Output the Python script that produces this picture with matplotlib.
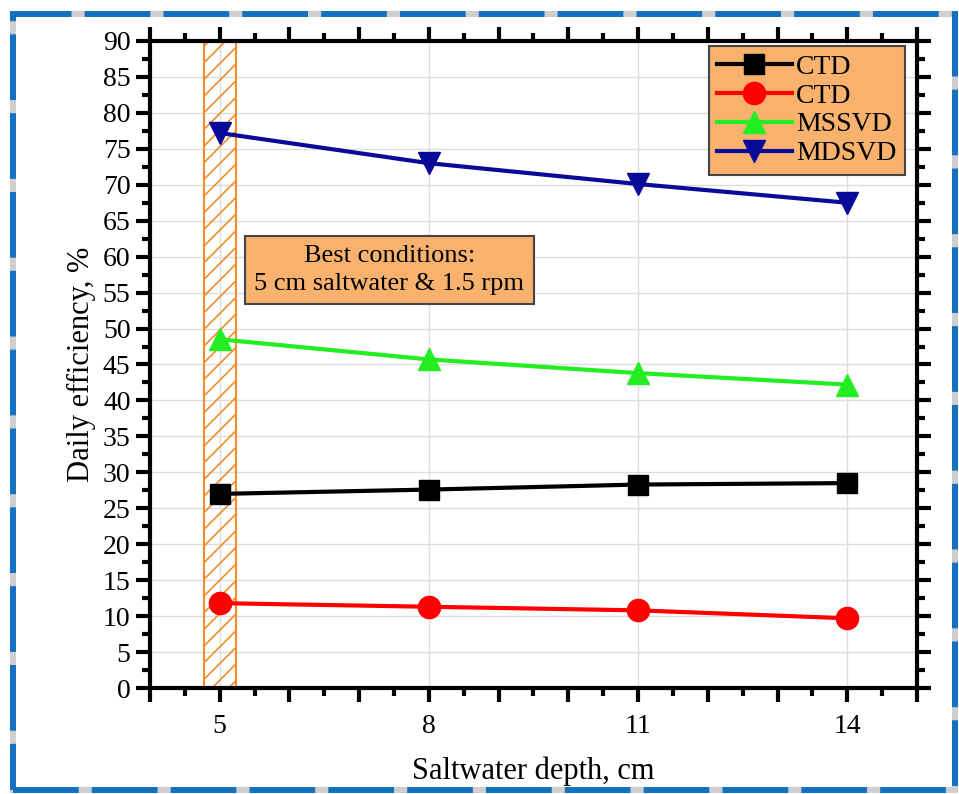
import numpy as np
import matplotlib.pyplot as plt
from matplotlib.patches import Rectangle
from matplotlib.ticker import MultipleLocator, FixedFormatter, FixedLocator

plt.rcParams['font.family'] = ['Liberation Serif', 'DejaVu Serif']
plt.rcParams['hatch.color'] = '#F28C28'
plt.rcParams['hatch.linewidth'] = 1.2

# Data
depth = [5, 8, 11, 14]
ctd_black = [27.0, 27.6, 28.3, 28.5]
ctd_red = [11.8, 11.3, 10.8, 9.7]
mssvd = [48.5, 45.7, 43.8, 42.2]
mdsvd = [77.2, 73.0, 70.1, 67.5]
labels = ['CTD', 'CTD', 'MSSVD', 'MDSVD']
best_lo, best_hi = 4.78, 5.24

orange = '#F8B26E'

fig = plt.figure(figsize=(9.59, 7.94), dpi=100)
ax = fig.add_axes([0.1564, 0.1335, 0.7998, 0.8149])

# grid
for x in depth:
    ax.axvline(x, color='#dddddd', lw=1, zorder=0)
for y in range(5, 90, 5):
    ax.axhline(y, color='#dddddd', lw=1, zorder=0)

# hatched band for best conditions
ax.add_patch(Rectangle((best_lo, 0), best_hi - best_lo, 90, facecolor='none',
                       edgecolor='#F28C28', hatch='//', lw=1.5, zorder=1))

ms = 15
ax.plot(depth, ctd_black, '-s', color='black', lw=3, ms=ms - 1, label=labels[0], zorder=3)
ax.plot(depth, ctd_red, '-o', color='red', lw=3, ms=ms + 1, label=labels[1], zorder=3)
ax.plot(depth, mssvd, '-^', color='#22ee22', lw=3, ms=ms + 1, label=labels[2], zorder=3)
ax.plot(depth, mdsvd, '-v', color='#0a0a9a', lw=3, ms=ms + 1, label=labels[3], zorder=3)

ax.set_xlim(4, 15)
ax.set_ylim(0, 90)
ticks = list(range(4, 16))
ax.xaxis.set_major_locator(FixedLocator(ticks))
ax.xaxis.set_major_formatter(FixedFormatter([str(t) if t in depth else '' for t in ticks]))
ax.xaxis.set_minor_locator(MultipleLocator(0.5))
ax.yaxis.set_major_locator(MultipleLocator(5))
ax.yaxis.set_minor_locator(MultipleLocator(2.5))

for s in ax.spines.values():
    s.set_linewidth(3)
ax.tick_params(which='major', direction='out', length=10, width=3, labelsize=20,
               top=True, right=True, pad=4)
ax.tick_params(which='minor', direction='out', length=6, width=3, top=True, right=True)
ax.tick_params(axis='x', which='major', pad=9)

ax.set_xlabel('Saltwater depth, cm', fontsize=22, labelpad=12)
ax.set_ylabel('Daily efficiency, %', fontsize=22, labelpad=5)

leg = ax.legend(loc='upper right', fontsize=20, frameon=True, fancybox=False,
                handlelength=2.7, borderpad=0.3, labelspacing=0.12, handletextpad=0.15,
                borderaxespad=0, bbox_to_anchor=(0.984, 0.992))
leg.get_frame().set_facecolor(orange)
leg.get_frame().set_edgecolor('#444444')
leg.get_frame().set_alpha(1)
leg.get_frame().set_linewidth(1.5)

ax.text(0.312, 0.646, 'Best conditions:\n5 cm saltwater & 1.5 rpm', transform=ax.transAxes,
        fontsize=19, ha='center', va='center', linespacing=1.35,
        bbox=dict(boxstyle='square,pad=0.35', facecolor=orange, edgecolor='#444444', lw=1.5),
        zorder=5)

# dashed blue border around the figure
bx0, by0, bw, bh = 0.0136, 0.005, 0.982, 0.977
fig.patches.append(Rectangle((bx0, by0), bw, bh, transform=fig.transFigure,
                             fill=False, edgecolor='#cfcfcf', lw=4.3))
fig.patches.append(Rectangle((bx0, by0), bw, bh, transform=fig.transFigure,
                             fill=False, edgecolor='#1470C0', lw=4.3,
                             linestyle=(0, (11, 2.2))))

fig.savefig('out.png', dpi=100)
